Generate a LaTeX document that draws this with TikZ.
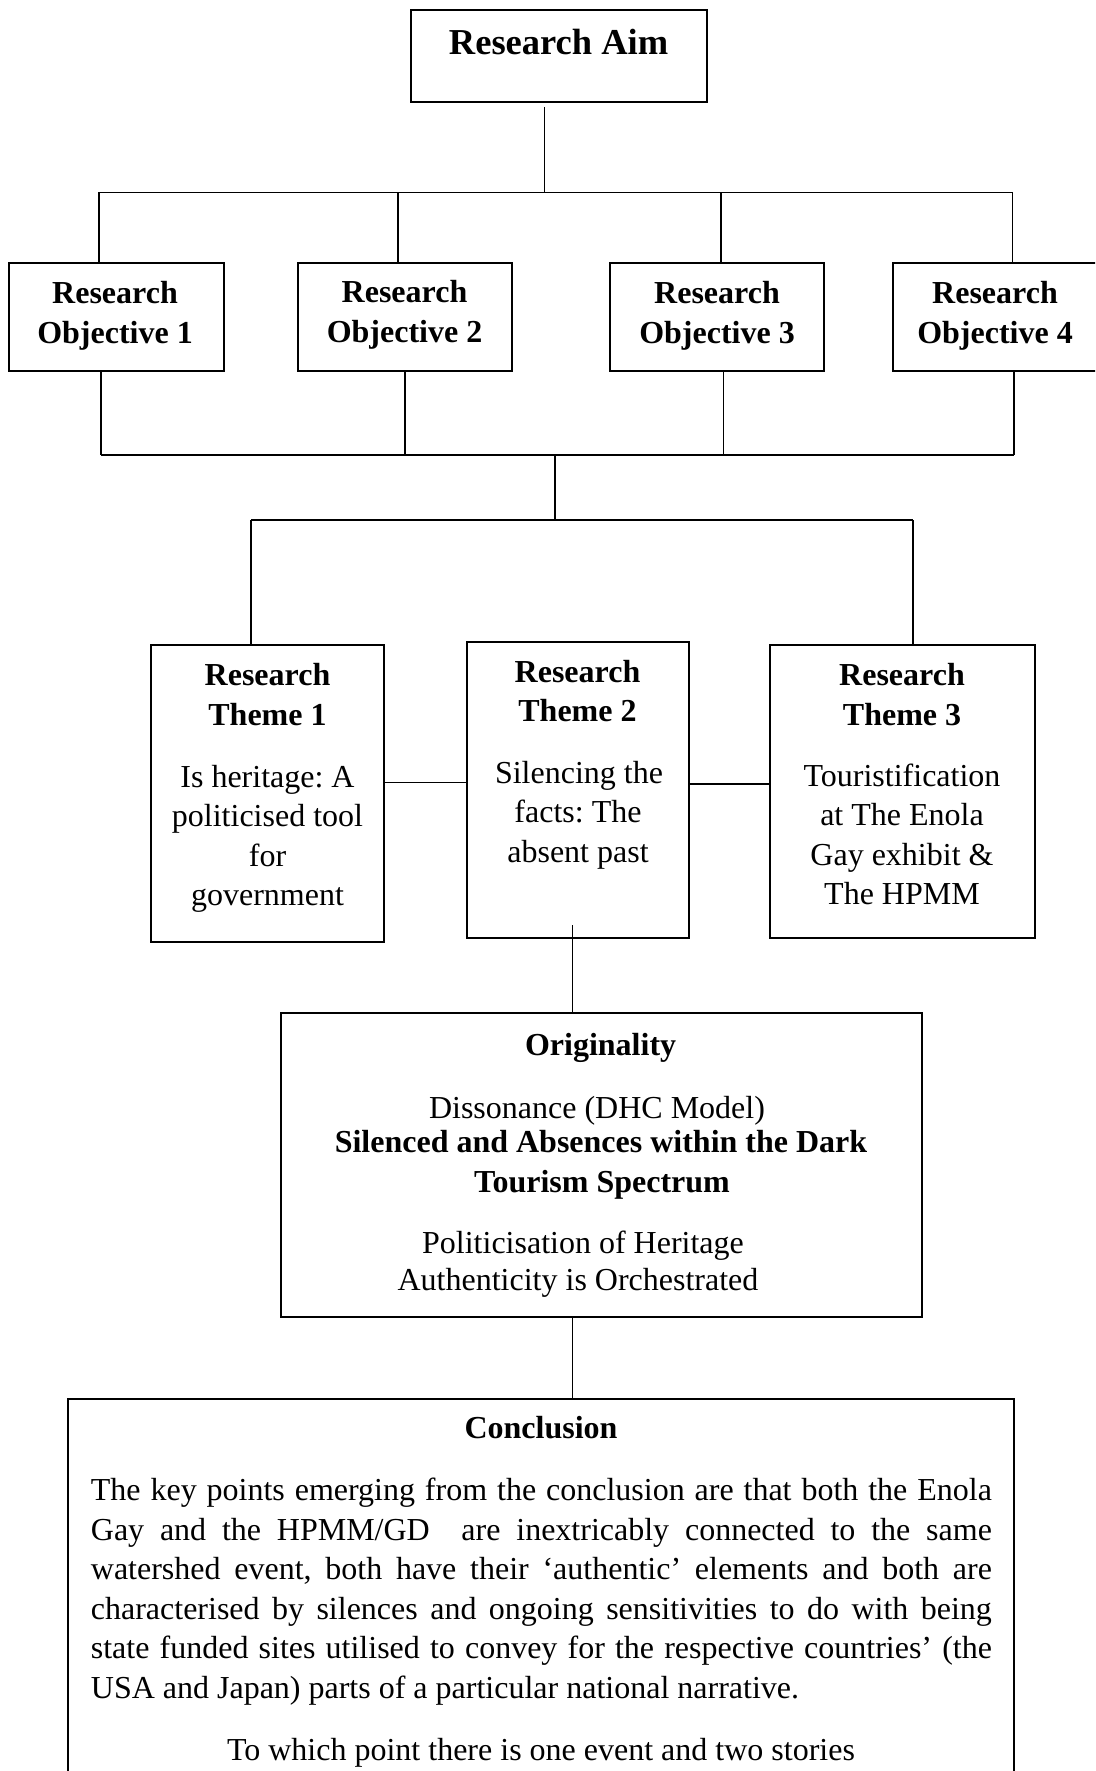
\documentclass[tikz,border=0pt]{standalone}
\usepackage{fontspec}
\setmainfont{Liberation Serif}
\frenchspacing
\begin{document}
\begin{tikzpicture}[x=1pt,y=-1pt,
  box/.style={draw, line width=2pt, inner sep=0pt},
  link/.style={line width=1.5pt},
  txt/.style={inner sep=0pt, anchor=base, font=\fontsize{32}{39.5}\selectfont},
  hd/.style={inner sep=0pt, anchor=base, font=\fontsize{32}{39.5}\selectfont\bfseries},
  para/.style={inner sep=0pt, anchor=base west, text width=901pt, align=justify,
    font=\fontsize{32}{39.5}\selectfont}]
\useasboundingbox (0,0) rectangle (1095,1771);
\clip (0,0) rectangle (1095,1771);

% ---- boxes ----
\node[box, minimum width=296pt, minimum height=92pt] (aim) at (558.6,56) {};
\node[box, minimum width=214.5pt, minimum height=108pt] (o1) at (116.3,317) {};
\node[box, minimum width=214pt, minimum height=108pt] (o2) at (405,317) {};
\node[box, minimum width=214pt, minimum height=108pt] (o3) at (717,317) {};
\node[box, minimum width=214pt, minimum height=108pt] (o4) at (999.5,317) {};
\node[box, minimum width=233pt, minimum height=296.7pt] (t1) at (267.5,793.4) {};
\node[box, minimum width=222pt, minimum height=296.6pt] (t2) at (577.5,790) {};
\node[box, minimum width=265pt, minimum height=293pt] (t3) at (902.5,791.5) {};
\node[box, minimum width=641pt, minimum height=303.4pt] (orig) at (601.2,1165) {};
\node[box, minimum width=945.6pt, minimum height=391pt] (concl) at (541.2,1594.5) {};

% ---- texts ----
\node[hd, font=\fontsize{36.5}{44}\selectfont\bfseries] (aimT) at (558.6,55) {Research Aim};

\node[hd] (o1a) at (115,303) {Research};
\node[hd] (o1b) at (115,343) {Objective 1};
\node[hd] (o2a) at (404.5,302) {Research};
\node[hd] (o2b) at (404.5,342) {Objective 2};
\node[hd] (o3a) at (717,303) {Research};
\node[hd] (o3b) at (717,343) {Objective 3};
\node[hd] (o4a) at (995,303) {Research};
\node[hd] (o4b) at (995,343) {Objective 4};

\node[hd] (t1a) at (267.5,685) {Research};
\node[hd] (t1b) at (267.5,725) {Theme 1};
\node[txt] (t1c) at (267.5,787) {Is heritage: A};
\node[txt] (t1d) at (267.5,826.5) {politicised tool};
\node[txt] (t1e) at (267.5,866) {for};
\node[txt] (t1f) at (267.5,905.5) {government};

\node[hd] (t2a) at (577.5,682) {Research};
\node[hd] (t2b) at (577.5,721) {Theme 2};
\node[txt] (t2c) at (579,783) {Silencing the};
\node[txt] (t2d) at (578,822.5) {facts: The};
\node[txt] (t2e) at (578,862) {absent past};

\node[hd] (t3a) at (902,685) {Research};
\node[hd] (t3b) at (902,725) {Theme 3};
\node[txt] (t3c) at (902,786) {Touristification};
\node[txt] (t3d) at (902,825.5) {at The Enola};
\node[txt] (t3e) at (902,865) {Gay exhibit \&};
\node[txt] (t3f) at (902,904.5) {The HPMM};

\node[hd] (origA) at (600.6,1055) {Originality};
\node[txt] (origB) at (597,1118) {Dissonance (DHC Model)};
\node[hd] (origC) at (601,1152) {Silenced and Absences within the Dark};
\node[hd] (origD) at (602,1192) {Tourism Spectrum};
\node[txt] (origE) at (583,1253) {Politicisation of Heritage};
\node[txt] (origF) at (578,1290) {Authenticity is Orchestrated};

\node[hd] (conA) at (541,1438) {Conclusion};
\node[para] (conB) at (90.7,1500.7) {\hyphenpenalty10000 The key points emerging from the conclusion are that both the Enola\linebreak
Gay and the HPMM/GD\ \ are inextricably connected to the same\linebreak
watershed event, both have their ‘authentic’ elements and both are\linebreak
characterised by silences and ongoing sensitivities to do with being\linebreak
state funded sites utilised to convey for the respective countries’ (the\linebreak
USA and Japan) parts of a particular national narrative.};
\node[txt] (conC) at (541,1760.5) {To which point there is one event and two stories};

% ---- connectors: aim to objectives ----
\coordinate (aimStem) at (544.7,107);
\coordinate (busA) at (544.7,192.3);
\coordinate (s1) at (99,192.3);
\coordinate (s2) at (398,192.3);
\coordinate (s3) at (721,192.3);
\coordinate (s4) at (1012.6,192.3);
\draw[link] (aimStem) -- (busA);
\draw[link] (s1) -- (s4);
\draw[link] (s1) -- (s1 |- o1.north);
\draw[link] (s2) -- (s2 |- o2.north);
\draw[link] (s3) -- (s3 |- o3.north);
\draw[link] (s4) -- (s4 |- o4.north);

% ---- objectives to themes ----
\coordinate (u1) at (101,455);
\coordinate (u2) at (405,455);
\coordinate (u3) at (723.5,455);
\coordinate (u4) at (1014,455);
\coordinate (busB) at (555,455);
\coordinate (busC) at (555,520);
\coordinate (w1) at (251,520);
\coordinate (w3) at (913,520);
\draw[link] (u1 |- o1.south) -- (u1);
\draw[link] (u2 |- o2.south) -- (u2);
\draw[link] (u3 |- o3.south) -- (u3);
\draw[link] (u4 |- o4.south) -- (u4);
\draw[link] (u1) -- (u4);
\draw[link] (busB) -- (busC);
\draw[link] (w1) -- (w3);
\draw[link] (w1) -- (w1 |- t1.north);
\draw[link] (w3) -- (w3 |- t3.north);

% ---- theme links ----
\coordinate (h12) at (0,782.7);
\coordinate (h23) at (0,784);
\draw[link] (t1.east |- h12) -- (t2.west |- h12);
\draw[link] (t2.east |- h23) -- (t3.west |- h23);

% ---- down to originality and conclusion ----
\coordinate (v2) at (572.5,925);
\draw[link] (v2) -- (v2 |- orig.north);
\coordinate (v3) at (572.6,0);
\draw[link] (v3 |- orig.south) -- (v3 |- concl.north);
\end{tikzpicture}
\end{document}
